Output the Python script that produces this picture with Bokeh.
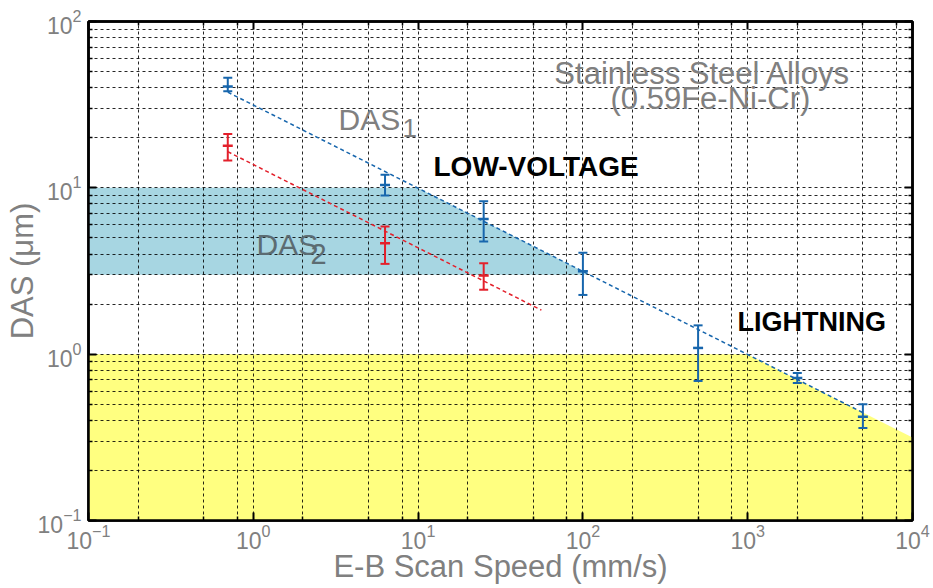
from bokeh.plotting import figure
from bokeh.models import (ColumnDataSource, Whisker, TeeHead, Label, LogAxis,
                          FixedTicker, CustomJSTickFormatter, Range1d)
from bokeh.embed import file_html
from bokeh.resources import INLINE

# ---------------- data ----------------
blue_x = [0.7, 6.3, 25, 100, 500, 2000, 5000]
blue_y = [40.6, 10.4, 6.5, 3.15, 1.09, 0.72, 0.42]
blue_lo = [38.1, 9.0, 4.75, 2.27, 0.69, 0.67, 0.36]
blue_hi = [45.9, 12.0, 8.3, 4.07, 1.49, 0.77, 0.50]

red_x = [0.7, 6.3, 25]
red_y = [17.9, 4.65, 2.97]
red_lo = [14.6, 3.49, 2.44]
red_hi = [21.1, 5.85, 3.52]

blue_fit_x = [0.7, 5000]
blue_fit_y = [37.6, 0.445]
red_fit_x = [0.7, 56]
red_fit_y = [16.5, 1.84]

lowv_x = [0.1, 0.1, 9.9, 110]
lowv_y = [3, 10, 10, 3]
light_x = [0.1, 0.1, 992, 10000, 10000]
light_y = [0.1, 1, 1, 0.315, 0.1]

x_major = [0.1, 1, 10, 100, 1000, 10000]
x_minor = [0.2, 0.5, 0.8, 2, 5, 8, 20, 50, 80, 200, 500, 800, 2000, 5000, 8000]
y_major = [0.1, 1, 10, 100]
y_minor = [m * d for d in (0.1, 1, 10) for m in range(2, 10)]

BLUE = "#1766ad"
RED = "#e3202b"
GRAY = "#808080"
FONT = "Liberation Sans"

p = figure(width=930, height=586, x_axis_type="log", y_axis_type="log",
           x_range=Range1d(0.1, 1e4), y_range=Range1d(0.1, 100),
           output_backend="svg", toolbar_location=None,
           min_border_left=88, min_border_right=18, min_border_top=21,
           min_border_bottom=66)
p.outline_line_color = "black"
p.outline_line_width = 2.5
p.background_fill_color = "white"
p.border_fill_color = "white"

xt = FixedTicker(ticks=x_major, minor_ticks=x_minor)
yt = FixedTicker(ticks=y_major, minor_ticks=y_minor)

# regions
p.patch(light_x, light_y, fill_color="#ffff80", line_color=None, level="image")
p.patch(lowv_x, lowv_y, fill_color="#a7d6e2", line_color=None, level="image")

# grid
for g, t in ((p.xgrid, xt), (p.ygrid, yt)):
    g.ticker = t
    g.grid_line_color = "black"
    g.grid_line_dash = "3 3"
    g.grid_line_width = 1
    g.grid_line_alpha = 0.85
    g.minor_grid_line_color = "black"
    g.minor_grid_line_dash = "3 3"
    g.minor_grid_line_width = 1
    g.minor_grid_line_alpha = 0.85

def style_axis(ax):
    ax.axis_line_color = "black"
    ax.axis_line_width = 2.5
    ax.major_tick_in = 8
    ax.major_tick_out = 0
    ax.minor_tick_in = 4
    ax.minor_tick_out = 0
    ax.major_tick_line_width = 2
    ax.minor_tick_line_width = 1.5
    ax.major_tick_line_color = "black"
    ax.minor_tick_line_color = "black"
    ax.major_label_text_color = GRAY
    ax.major_label_text_font = FONT
    ax.major_label_text_font_size = "23px"
    ax.axis_label_text_color = GRAY
    ax.axis_label_text_font = FONT
    ax.axis_label_text_font_size = "31px"
    ax.axis_label_text_font_style = "normal"

p.xaxis.ticker = xt
p.yaxis.ticker = yt
style_axis(p.xaxis[0])
style_axis(p.yaxis[0])
p.xaxis.axis_label = "E-B Scan Speed (mm/s)"
p.yaxis.axis_label = "DAS (\u03bcm)"
p.xaxis.major_label_standoff = 3
p.yaxis.major_label_standoff = 7
p.xaxis.axis_label_standoff = -3
p.yaxis.axis_label_standoff = -5

top = LogAxis(ticker=xt, formatter=CustomJSTickFormatter(code="return ''"))
right = LogAxis(ticker=yt, formatter=CustomJSTickFormatter(code="return ''"))
for ax in (top, right):
    style_axis(ax)
    ax.major_label_standoff = 0
p.add_layout(top, "above")
p.add_layout(right, "right")

# fit lines
p.line(blue_fit_x, blue_fit_y, line_color=BLUE, line_width=1.5, line_dash="4 3")
p.line(red_fit_x, red_fit_y, line_color=RED, line_width=1.5, line_dash="4 3")

# error bars
for xs, ys, lo, hi, c in ((blue_x, blue_y, blue_lo, blue_hi, BLUE),
                          (red_x, red_y, red_lo, red_hi, RED)):
    src = ColumnDataSource(dict(x=xs, y=ys, lo=lo, hi=hi))
    w = Whisker(source=src, base="x", lower="lo", upper="hi",
                line_color=c, line_width=2,
                lower_head=TeeHead(size=9, line_color=c, line_width=2),
                upper_head=TeeHead(size=9, line_color=c, line_width=2))
    p.add_layout(w)
    p.scatter("x", "y", source=src, marker="dash", size=10,
              line_color=c, line_width=2.5)

# text annotations
def lab(x, y, text, size, color=GRAY, style="normal", align="left"):
    p.add_layout(Label(x=x, y=y, text=text, text_font=FONT,
                       text_font_size=size, text_color=color,
                       text_font_style=style, text_align=align,
                       text_baseline="alphabetic", y_offset=9))

lab(532, 43.0, "Stainless Steel Alloys", "31px", align="center")
lab(594, 30.4, "(0.59Fe-Ni-Cr)", "31px", align="center")
lab(3.29, 22.7, "DAS", "30px")
lab(8.04, 20.1, "1", "26px")
lab(1.046, 4.03, "DAS", "30px", color="#5c6c72")
lab(2.22, 3.51, "2", "29px", color="#5c6c72")
lab(12.4, 11.86, "LOW-VOLTAGE", "28px", color="black", style="bold")
lab(867, 1.387, "LIGHTNING", "27px", color="black", style="bold")

open("out.html", "w").write(file_html(p, INLINE))
